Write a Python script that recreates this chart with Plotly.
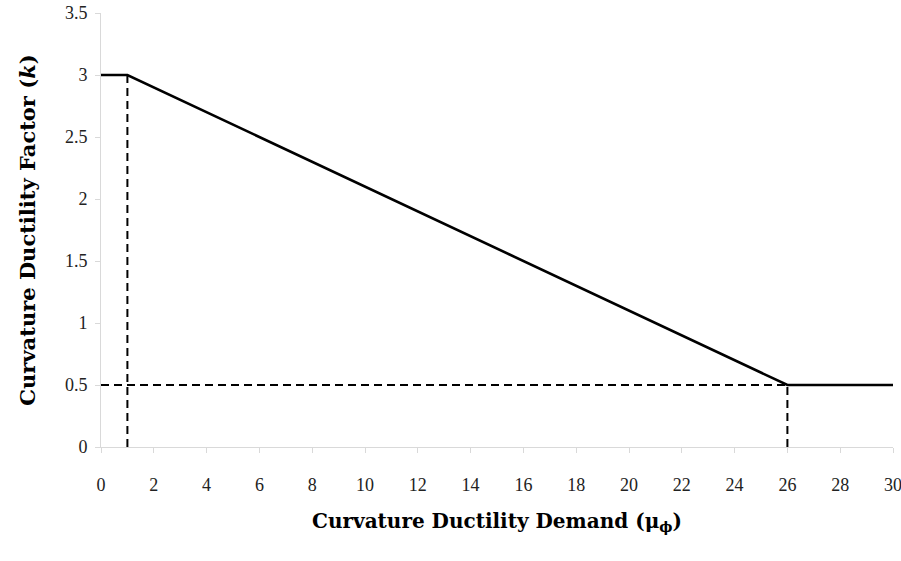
import plotly.graph_objects as go

# кривая коэффициента пластичности
mu_curve = [0, 1, 26, 30]
k_curve = [3, 3, 0.5, 0.5]

# вспомогательные пунктирные линии
mu_dash_left = [1, 1]
k_dash_left = [0, 3]
mu_dash_h = [0, 26]
k_dash_h = [0.5, 0.5]
mu_dash_right = [26, 26]
k_dash_right = [0, 0.5]

x_ticks = list(range(0, 31, 2))
y_ticks = [0, 0.5, 1, 1.5, 2, 2.5, 3, 3.5]

tick_font = "Liberation Serif, serif"
title_font = "DejaVu Serif, serif"

fig = go.Figure()

for xs, ys in [(mu_dash_left, k_dash_left), (mu_dash_h, k_dash_h), (mu_dash_right, k_dash_right)]:
    fig.add_trace(go.Scatter(x=xs, y=ys, mode='lines',
                             line=dict(color='black', width=2, dash='8px,5px'),
                             showlegend=False, hoverinfo='skip'))

fig.add_trace(go.Scatter(x=mu_curve, y=k_curve, mode='lines',
                         line=dict(color='black', width=2.6),
                         showlegend=False))

axis_style = dict(
    showgrid=False,
    zeroline=False,
    showline=True,
    linecolor='#d9d9d9',
    linewidth=1,
    ticks='outside',
    tickcolor='#d9d9d9',
    ticklen=5,
    automargin=False,
    ticklabeloverflow='allow',
    tickfont=dict(family=tick_font, size=18, color='#222'),
)

fig.update_xaxes(
    range=[0, 30],
    tickvals=x_ticks,
    ticklabelstandoff=16,
    title=dict(text="<b>Curvature Ductility Demand (μ<sub>ϕ</sub>)</b>",
               font=dict(family=title_font, size=20, color='black'),
               standoff=20),
    **axis_style
)
fig.update_yaxes(
    range=[0, 3.5],
    tickvals=y_ticks,
    ticklabelstandoff=4,
    title=dict(text="<b>Curvature Ductility Factor (<i>k</i>)</b>",
               font=dict(family=title_font, size=21, color='black'),
               standoff=23),
    **axis_style
)

fig.update_layout(
    width=901,
    height=561,
    margin=dict(l=101, r=8, t=13, b=114),
    plot_bgcolor='white',
    paper_bgcolor='white',
)

# убираем стандартный отступ body, чтобы фигура занимала всё окно
fig.write_html("out.html",
               config={'displayModeBar': False},
               post_script="document.body.style.margin='0';")
